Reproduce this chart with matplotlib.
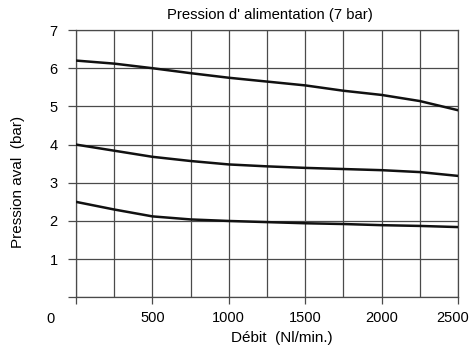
import matplotlib
matplotlib.use('Agg')
import matplotlib.pyplot as plt
from matplotlib.transforms import offset_copy, ScaledTranslation

plt.rcParams['font.family'] = ['Liberation Sans', 'DejaVu Sans']

# flow (Nl/min) and downstream pressure (bar)
debit = [0, 250, 500, 750, 1000, 1250, 1500, 1750, 2000, 2250, 2500]
p_haut = [6.2, 6.12, 6.0, 5.87, 5.75, 5.65, 5.55, 5.41, 5.3, 5.14, 4.9]
p_milieu = [4.0, 3.84, 3.68, 3.57, 3.48, 3.43, 3.39, 3.36, 3.33, 3.28, 3.18]
p_bas = [2.5, 2.3, 2.12, 2.04, 2.0, 1.97, 1.94, 1.92, 1.89, 1.87, 1.84]

x_ticks = [0, 500, 1000, 1500, 2000, 2500]
x_labels = ['', '500', '1000', '1500', '2000', '2500']
y_ticks = [0, 1, 2, 3, 4, 5, 6, 7]
y_labels = ['', '1', '2', '3', '4', '5', '6', '7']

fig = plt.figure(figsize=(4.71, 3.49), dpi=100)
ax = fig.add_axes([0.1614, 0.148, 0.811, 0.766])

gcol = '#4a4a4a'
for xv in debit:
    ax.axvline(xv, color=gcol, lw=0.9, zorder=1)
for yv in y_ticks:
    ax.axhline(yv, color=gcol, lw=0.9, zorder=1)

for serie in (p_haut, p_milieu, p_bas):
    ax.plot(debit, serie, color='#111111', lw=1.8, zorder=3)

ax.set_xlim(0, 2500)
ax.set_ylim(0, 7)
ax.set_xticks(x_ticks)
ax.set_xticklabels(x_labels)
ax.set_yticks(y_ticks)
ax.set_yticklabels(y_labels)
ax.tick_params(axis='x', length=4.7, width=0.9, color=gcol, pad=5, labelsize=10.5)
ax.tick_params(axis='y', length=5.8, width=0.9, color=gcol, pad=7.5, labelsize=10.5)
for s in ax.spines.values():
    s.set_color(gcol)
    s.set_linewidth(0.9)

# nudge the last x label inside the figure, as in the original
last = ax.get_xticklabels()[-1]
last.set_transform(last.get_transform() + ScaledTranslation(-5 / 100, 0, fig.dpi_scale_trans))

# shared origin label
tr = offset_copy(ax.transData, fig=fig, x=-26, y=-22, units='dots')
ax.text(0, 0, '0', transform=tr, ha='center', va='center', fontsize=10.5)

ax.text(0.507, 1.056, "Pression d' alimentation (7 bar)", transform=ax.transAxes,
        ha='center', va='center', fontsize=10.7)
ax.set_xlabel('Débit  (Nl/min.)', fontsize=11)
ax.xaxis.label.set_va('center')
ax.xaxis.set_label_coords(0.539, -0.152)
ax.set_ylabel('Pression aval  (bar)', fontsize=11)
ax.yaxis.label.set_va('center')
ax.yaxis.set_label_coords(-0.152, 0.433)

fig.savefig('out.png', dpi=100)
